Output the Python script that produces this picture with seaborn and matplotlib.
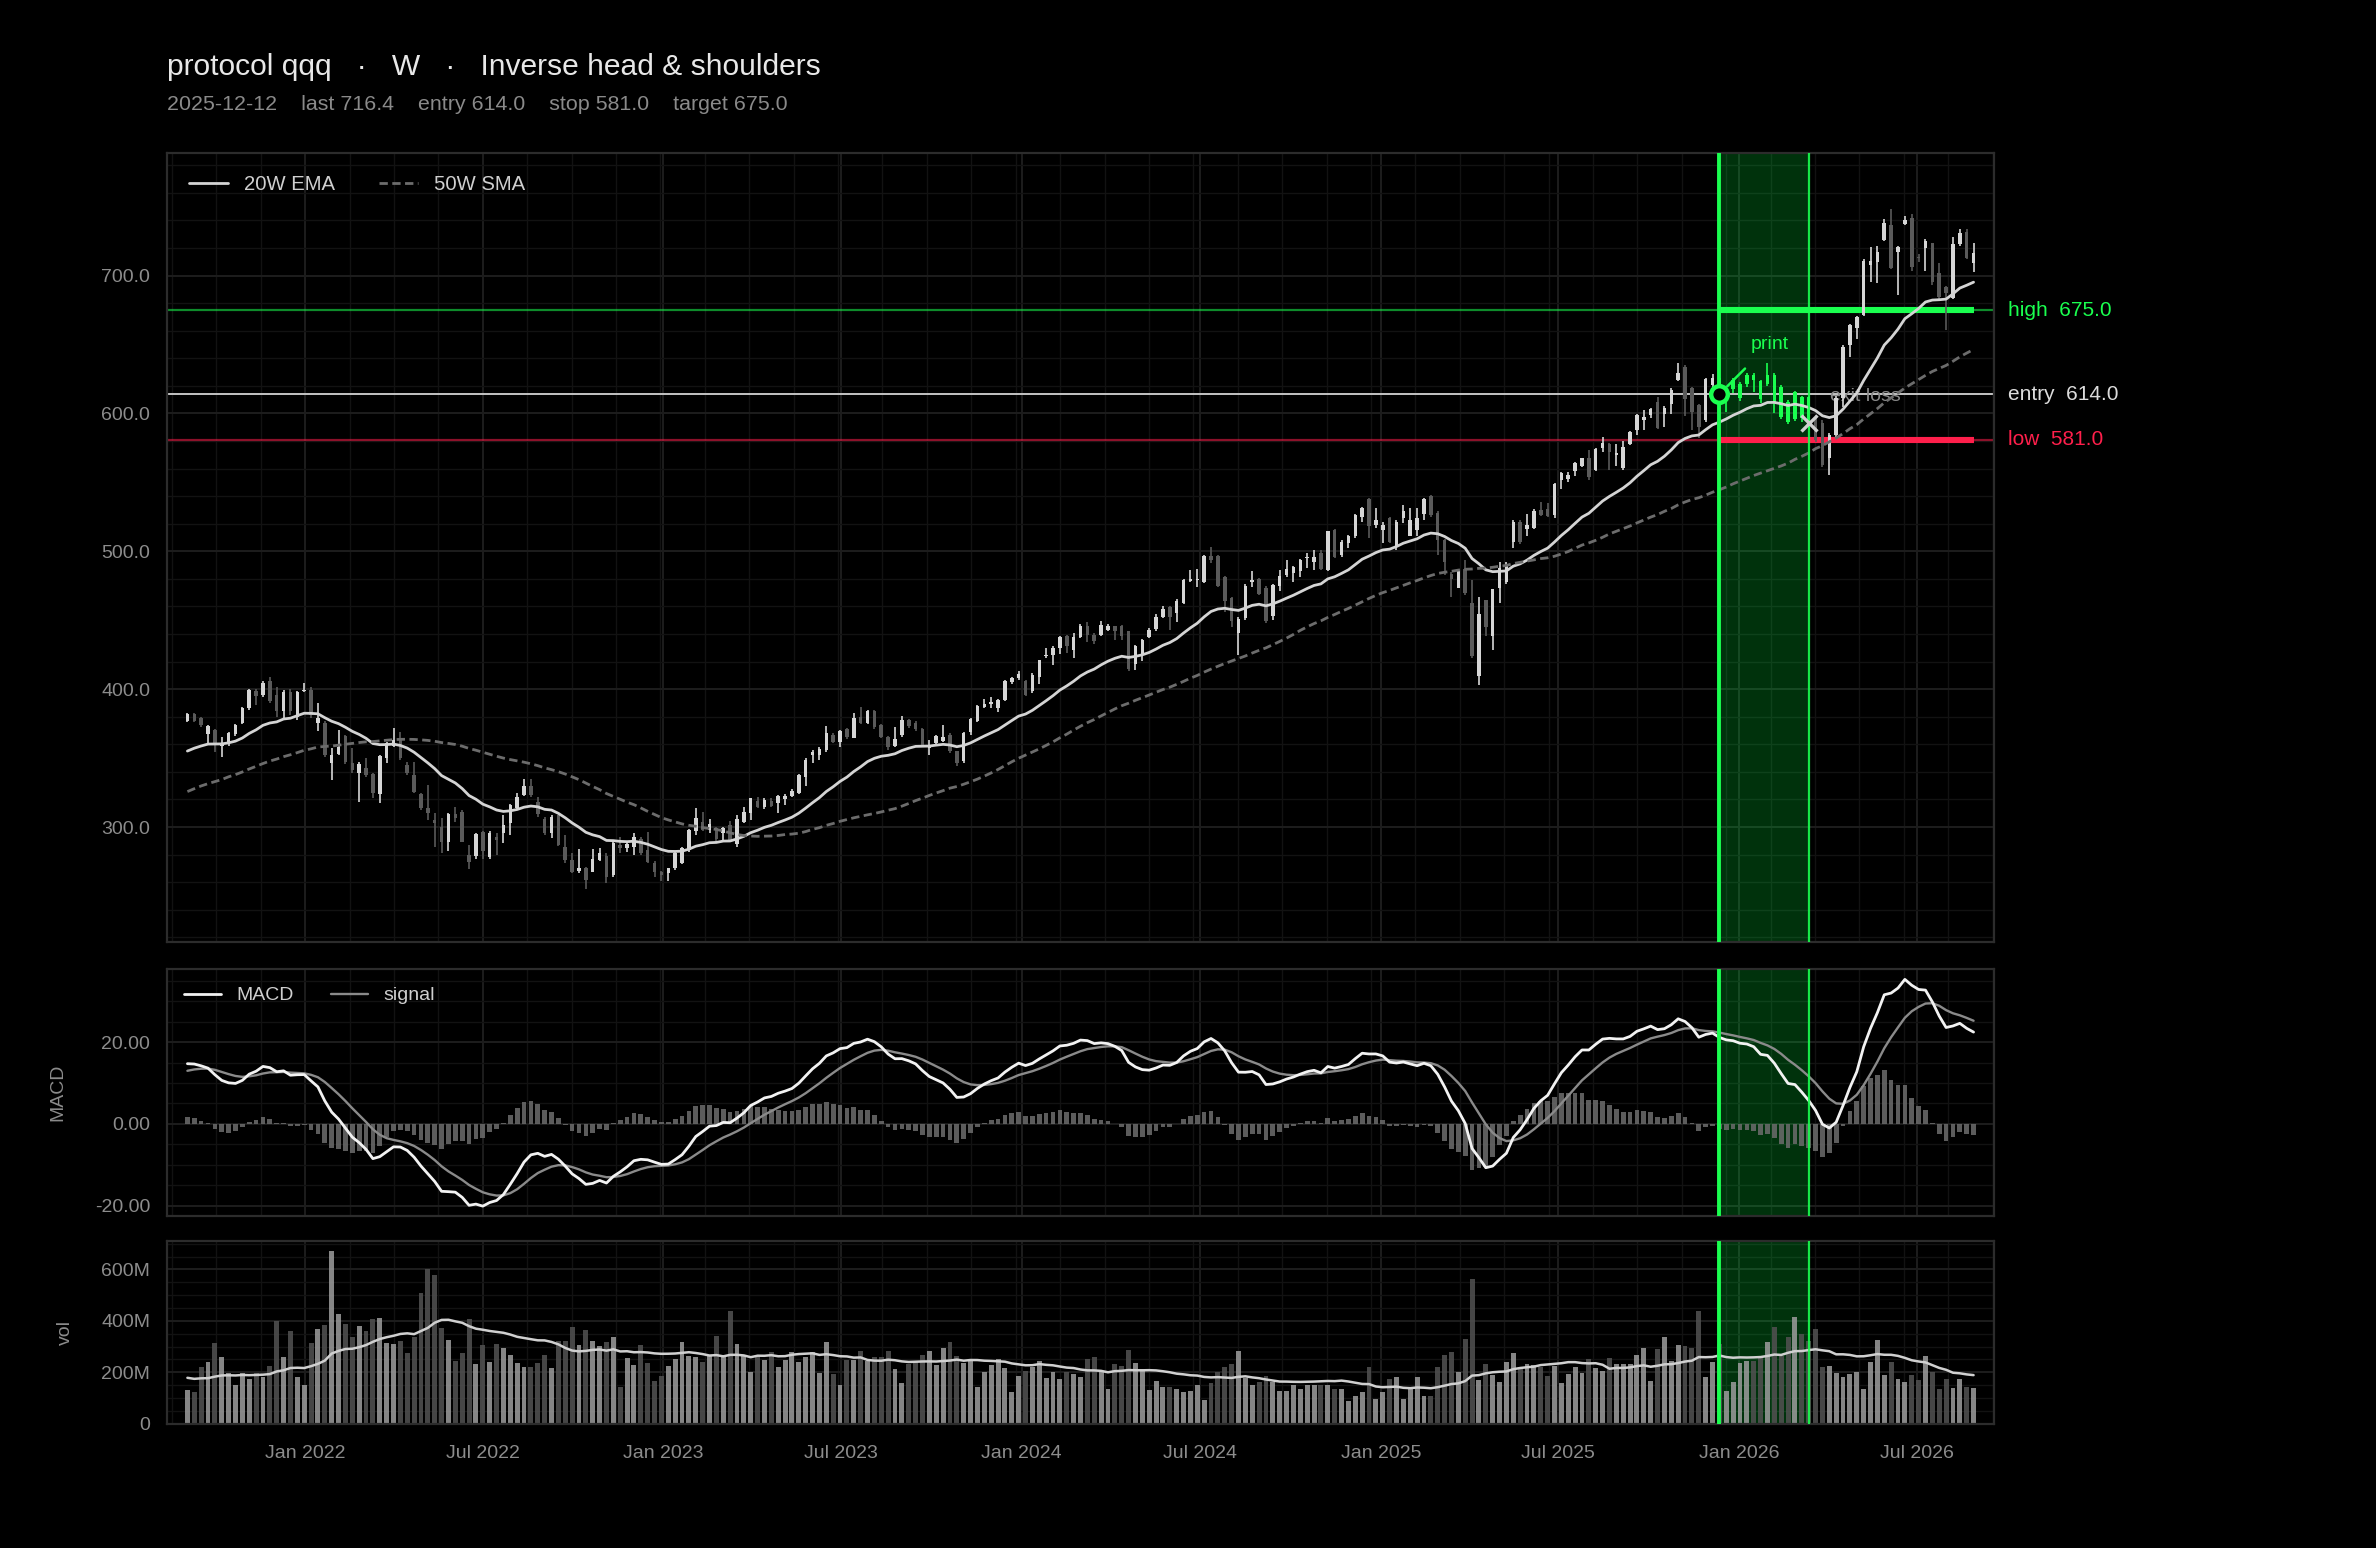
import numpy as np
import pandas as pd
import matplotlib
matplotlib.use("Agg")
import matplotlib.pyplot as plt
import matplotlib.dates as mdates
from matplotlib.ticker import AutoMinorLocator, FuncFormatter, MultipleLocator
import seaborn as sns

# weekly bars, Friday closes
first_week = "2021-09-03"

# warm-up closes before the first drawn bar (the averages / MACD are already running at the left edge)
pre_close = [285, 269, 266, 272, 274, 291, 287, 285, 269, 294, 291, 291, 299, 303, 303, 311, 312, 314,
             321, 315, 328, 314, 332, 337, 327, 316, 309, 314, 313, 314, 327, 337, 342, 339, 337, 331,
             329, 330, 334, 336, 342, 344, 351, 357, 359, 357, 367, 364, 368, 370, 370, 376]
pre_volume = [205, 180, 230, 195, 170, 185, 165, 160, 190, 175, 165, 180, 195, 170, 185, 160, 175, 170, 190]

opens = [
    377.2, 382.1, 379.0, 367.3, 370.5, 358.8, 360.8, 367.3, 375.8, 386.2,
    399.0, 395.9, 405.6, 395.9, 383.8, 398.3, 380.1, 398.5, 399.5, 375.3,
    375.3, 346.2, 353.0, 366.1, 346.2, 339.0, 342.6, 338.3, 324.0, 349.9,
    358.8, 363.2, 345.0, 337.8, 324.0, 313.6, 305.1, 300.2, 289.3, 309.4,
    311.1, 279.7, 278.9, 296.1, 278.0, 293.0, 295.4, 302.7, 313.6, 323.2,
    329.8, 318.4, 305.8, 295.4, 308.7, 285.7, 276.0, 268.0, 270.0, 267.5,
    276.0, 279.0, 265.1, 287.1, 284.5, 285.7, 291.0, 283.3, 274.0, 267.6,
    266.4, 270.5, 274.1, 283.3, 297.0, 303.9, 297.8, 299.0, 295.4, 301.5,
    287.6, 303.9, 309.9, 319.1, 314.8, 319.1, 317.2, 320.1, 322.5, 324.5,
    336.6, 352.3, 352.3, 356.0, 366.8, 362.0, 371.0, 364.4, 379.7, 375.8,
    384.3, 374.1, 365.6, 358.8, 366.8, 377.4, 375.7, 371.1, 357.4, 360.9,
    362.2, 367.0, 354.9, 347.7, 368.7, 376.7, 387.1, 389.5, 386.4, 392.4,
    405.0, 408.1, 405.7, 398.4, 408.8, 423.8, 425.0, 429.9, 438.8, 428.7,
    437.9, 446.1, 439.6, 439.6, 442.7, 445.6, 445.6, 442.0, 418.5, 425.0,
    437.9, 443.7, 452.4, 459.6, 455.3, 462.5, 478.2, 479.0, 477.5, 496.9,
    496.9, 481.4, 466.2, 441.0, 451.6, 477.5, 479.9, 473.4, 453.2, 474.5,
    482.9, 484.2, 485.4, 495.0, 492.6, 498.7, 486.6, 515.6, 497.4, 506.3,
    511.2, 525.2, 537.8, 519.2, 515.6, 524.0, 503.5, 524.0, 511.2, 515.6,
    527.2, 539.8, 528.1, 508.3, 483.7, 473.3, 487.1, 462.4, 409.7, 464.8,
    438.7, 473.3, 477.4, 507.1, 521.6, 516.1, 516.8, 530.1, 530.6, 526.5,
    551.9, 552.6, 558.6, 562.0, 567.6, 559.1, 574.8, 577.9, 569.6, 560.3,
    578.0, 588.1, 595.4, 599.0, 608.0, 599.7, 607.0, 624.4, 634.0, 618.3,
    606.2, 595.3, 620.7, 625.5, 612.0, 617.6, 611.0, 621.5, 628.0, 623.4,
    621.4, 627.6, 619.5, 608.6, 595.9, 612.2, 612.2, 596.5, 592.9, 567.5,
    584.4, 611.0, 650.0, 661.7, 671.5, 708.0, 710.1, 725.9, 736.7, 717.4,
    737.5, 741.6, 713.8, 719.8, 723.4, 701.7, 692.0, 683.6, 723.0, 731.9,
    709.4,
]
highs = [
    383.0, 383.0, 380.0, 374.0, 371.0, 365.6, 369.0, 375.0, 387.0, 400.0,
    400.0, 406.0, 408.7, 401.5, 399.5, 400.0, 399.0, 404.4, 401.9, 389.8,
    377.0, 357.1, 370.5, 366.8, 357.1, 347.0, 349.9, 339.5, 352.5, 361.5,
    371.7, 369.2, 347.5, 347.5, 325.0, 330.5, 309.9, 306.3, 310.5, 314.8,
    312.3, 286.9, 295.5, 297.0, 297.0, 296.0, 308.7, 317.0, 324.5, 335.0,
    334.6, 321.5, 307.0, 308.7, 309.0, 294.2, 280.9, 283.8, 271.2, 283.8,
    284.5, 280.9, 289.5, 293.0, 288.5, 295.4, 292.5, 296.6, 275.5, 268.0,
    270.5, 282.0, 285.5, 298.5, 313.6, 311.1, 305.8, 300.0, 300.2, 304.4,
    308.7, 314.8, 321.0, 322.0, 321.0, 320.8, 323.2, 324.0, 327.5, 338.5,
    349.9, 356.0, 358.4, 373.4, 368.0, 370.5, 372.0, 382.6, 387.4, 385.0,
    385.0, 375.0, 366.0, 372.4, 380.6, 378.0, 377.0, 372.0, 363.4, 366.5,
    374.3, 368.0, 355.5, 369.0, 379.0, 388.5, 393.1, 394.1, 393.0, 406.5,
    409.0, 413.5, 406.5, 411.5, 421.5, 429.9, 431.1, 438.5, 439.5, 440.8,
    447.0, 448.5, 440.5, 449.2, 447.5, 446.1, 446.5, 442.5, 432.3, 436.4,
    444.4, 454.8, 460.1, 460.6, 465.4, 480.0, 486.7, 487.2, 497.0, 503.1,
    497.5, 482.0, 467.0, 452.0, 476.0, 485.5, 481.0, 474.5, 476.5, 486.6,
    493.8, 489.0, 494.5, 498.7, 500.6, 501.0, 515.0, 516.0, 508.0, 512.0,
    527.0, 532.0, 538.5, 531.3, 521.6, 525.0, 522.5, 533.7, 531.3, 531.3,
    538.5, 541.0, 529.0, 509.0, 485.0, 486.6, 493.8, 479.3, 467.2, 465.0,
    473.0, 491.9, 491.9, 522.5, 522.8, 527.2, 530.5, 536.1, 534.9, 549.5,
    557.2, 557.2, 565.0, 568.0, 573.6, 574.8, 582.8, 578.5, 578.0, 579.7,
    587.6, 599.5, 602.6, 604.0, 612.3, 605.5, 618.3, 636.5, 635.0, 619.0,
    607.0, 625.5, 628.7, 631.0, 619.5, 626.0, 623.0, 629.0, 629.5, 624.0,
    636.4, 629.2, 620.5, 610.0, 616.5, 613.0, 613.0, 599.0, 595.0, 585.5,
    613.0, 650.0, 665.0, 671.0, 712.0, 721.0, 721.5, 740.9, 748.1, 721.5,
    743.3, 744.7, 716.0, 726.3, 724.0, 709.4, 692.5, 728.3, 733.6, 733.6,
    723.4,
]
lows = [
    376.5, 376.0, 372.9, 360.8, 354.7, 351.1, 359.0, 366.0, 375.0, 385.0,
    388.6, 394.0, 390.3, 379.7, 378.9, 381.0, 377.7, 397.6, 378.9, 370.0,
    351.0, 334.1, 352.3, 345.8, 339.5, 318.4, 336.6, 320.8, 317.2, 346.2,
    358.4, 348.7, 338.0, 325.0, 312.5, 305.1, 285.7, 280.9, 282.8, 303.9,
    288.9, 269.2, 277.0, 276.5, 277.0, 279.7, 288.2, 294.2, 312.0, 322.5,
    322.0, 307.5, 294.2, 291.8, 286.0, 273.6, 267.0, 267.0, 254.7, 267.1,
    275.0, 259.6, 263.4, 281.4, 282.0, 279.7, 280.0, 274.1, 263.4, 261.0,
    261.0, 269.0, 273.0, 282.0, 294.5, 297.3, 296.0, 290.0, 289.3, 289.3,
    285.7, 302.7, 305.1, 313.6, 313.0, 314.8, 310.4, 316.0, 321.5, 324.0,
    329.8, 346.7, 348.7, 354.7, 360.8, 358.4, 364.0, 364.4, 375.0, 375.0,
    371.0, 364.5, 355.9, 358.4, 365.6, 372.0, 370.0, 359.0, 352.5, 359.5,
    361.5, 354.0, 344.0, 346.5, 367.0, 376.0, 386.4, 386.4, 383.2, 391.5,
    403.5, 407.0, 395.0, 397.0, 403.8, 422.6, 417.8, 425.8, 426.3, 422.6,
    437.0, 434.0, 433.0, 438.3, 442.0, 436.0, 435.9, 413.0, 414.2, 420.7,
    437.0, 442.0, 451.6, 443.2, 448.5, 461.5, 478.0, 474.1, 477.0, 491.5,
    474.0, 455.8, 445.1, 425.0, 450.0, 474.1, 468.0, 448.0, 450.3, 470.9,
    481.2, 478.1, 481.2, 487.8, 486.6, 486.6, 486.0, 495.0, 496.0, 502.3,
    510.0, 521.6, 509.5, 516.8, 505.9, 506.0, 500.6, 520.4, 510.8, 510.8,
    522.8, 525.2, 497.4, 483.0, 466.7, 473.3, 468.4, 422.5, 403.2, 438.7,
    428.5, 462.4, 476.0, 502.3, 505.4, 510.8, 516.0, 525.7, 525.2, 524.0,
    545.0, 550.6, 554.8, 561.0, 551.9, 558.0, 571.7, 559.1, 562.0, 559.1,
    577.2, 584.5, 588.1, 596.6, 588.6, 590.0, 599.7, 623.9, 598.3, 588.1,
    582.0, 594.0, 619.5, 601.4, 601.4, 615.0, 609.0, 619.5, 615.8, 607.4,
    620.0, 600.2, 596.0, 592.0, 594.5, 594.0, 588.1, 579.6, 561.5, 555.4,
    583.0, 605.0, 641.2, 653.8, 671.0, 695.6, 694.4, 725.0, 704.6, 686.0,
    736.7, 703.6, 710.0, 703.6, 693.0, 683.0, 660.6, 683.0, 721.5, 711.8,
    702.9,
]
closes = [
    382.1, 376.8, 374.1, 373.4, 360.8, 360.8, 368.5, 374.1, 386.2, 399.5,
    395.2, 404.8, 391.5, 383.8, 398.3, 384.5, 398.3, 399.2, 381.4, 379.4,
    352.3, 352.3, 358.4, 347.5, 341.4, 345.8, 337.8, 324.5, 351.6, 360.8,
    363.2, 349.9, 339.0, 325.7, 313.6, 309.9, 302.7, 289.3, 309.4, 306.3,
    289.3, 274.8, 294.7, 282.8, 295.9, 290.6, 301.5, 316.0, 322.0, 330.0,
    323.2, 309.4, 295.4, 307.5, 287.1, 276.0, 267.6, 270.0, 261.5, 276.5,
    281.0, 264.0, 288.6, 284.5, 287.6, 292.5, 281.0, 274.8, 267.6, 265.1,
    270.0, 281.4, 284.5, 297.8, 306.3, 297.8, 302.0, 291.0, 299.0, 290.6,
    305.6, 311.1, 320.8, 314.8, 319.6, 315.3, 322.5, 322.5, 326.4, 337.8,
    348.7, 354.7, 356.3, 368.0, 362.0, 370.0, 365.6, 378.9, 375.8, 383.8,
    372.4, 365.6, 358.4, 363.9, 377.7, 373.1, 371.1, 359.8, 359.8, 365.8,
    365.3, 354.9, 346.5, 368.2, 378.4, 387.6, 389.5, 390.7, 392.4, 405.7,
    408.1, 411.0, 396.0, 410.5, 420.9, 425.0, 429.9, 437.9, 431.1, 437.9,
    446.1, 439.6, 434.7, 446.8, 445.6, 442.0, 438.3, 414.7, 431.1, 435.9,
    442.7, 452.4, 458.2, 452.4, 463.7, 479.4, 479.9, 479.9, 496.4, 493.5,
    475.1, 463.7, 449.2, 451.0, 475.1, 479.4, 469.3, 449.2, 475.7, 482.2,
    487.1, 488.3, 493.8, 496.2, 496.2, 487.1, 514.4, 496.2, 507.1, 511.2,
    526.5, 531.3, 518.5, 522.8, 519.2, 507.1, 521.6, 528.9, 522.8, 524.0,
    537.8, 526.5, 508.3, 491.9, 479.8, 485.4, 469.6, 423.7, 454.7, 445.0,
    472.5, 487.8, 489.0, 521.6, 507.1, 519.2, 529.6, 526.5, 525.7, 549.0,
    556.7, 555.3, 564.4, 567.6, 553.8, 574.1, 578.9, 571.7, 571.2, 575.5,
    586.2, 599.0, 597.3, 603.1, 589.3, 603.8, 617.1, 629.2, 610.4, 601.4,
    590.5, 624.8, 625.5, 612.2, 618.0, 624.3, 621.5, 628.0, 624.3, 610.2,
    627.6, 608.6, 597.7, 594.1, 615.9, 596.5, 590.5, 580.8, 562.7, 584.4,
    611.0, 648.5, 664.2, 670.3, 710.9, 710.3, 717.4, 738.4, 705.3, 721.0,
    740.4, 706.5, 712.6, 725.4, 695.6, 684.8, 687.2, 723.0, 730.7, 712.6,
    716.4,
]
# weekly volume, millions of shares
volume_m = [
    132, 125, 220, 242, 315, 261, 198, 152, 198, 173,
    198, 181, 226, 400, 261, 362, 181, 152, 315, 369,
    384, 672, 428, 389, 336, 381, 362, 406, 413, 315,
    310, 323, 274, 336, 509, 602, 580, 371, 327, 245,
    274, 408, 233, 307, 239, 310, 293, 269, 238, 220,
    220, 235, 267, 216, 323, 323, 377, 307, 366, 323,
    304, 318, 336, 142, 255, 230, 307, 238, 168, 187,
    226, 252, 319, 265, 261, 239, 265, 342, 267, 439,
    310, 267, 200, 258, 249, 278, 220, 248, 278, 239,
    258, 278, 196, 319, 194, 149, 249, 248, 282, 245,
    258, 258, 282, 214, 160, 233, 239, 267, 284, 230,
    295, 319, 265, 235, 248, 145, 200, 230, 252, 216,
    123, 187, 207, 222, 245, 177, 200, 174, 200, 195,
    183, 252, 261, 200, 137, 233, 226, 288, 238, 213,
    133, 168, 142, 142, 137, 125, 129, 149, 94, 159,
    203, 220, 233, 284, 177, 149, 164, 187, 162, 129,
    129, 151, 136, 152, 152, 149, 152, 136, 136, 90,
    110, 123, 220, 97, 123, 174, 183, 97, 134, 183,
    110, 110, 220, 269, 278, 200, 329, 562, 172, 233,
    191, 164, 242, 275, 213, 233, 229, 220, 185, 226,
    159, 194, 220, 196, 252, 216, 207, 256, 233, 233,
    233, 269, 295, 168, 291, 339, 245, 307, 301, 295,
    439, 181, 242, 310, 129, 164, 235, 245, 245, 258,
    319, 377, 265, 336, 416, 349, 320, 368, 220, 226,
    196, 183, 194, 200, 136, 242, 327, 191, 242, 174,
    164, 191, 172, 264, 200, 136, 174, 140, 174, 142,
    140,
]

symbol = "protocol qqq"
timeframe = "W"
pattern = "Inverse head & shoulders"
signal_date = "2025-12-12"
exit_date = "2026-03-13"
entry_price = 614.0
stop_price = 581.0
target_price = 675.0
exit_price = 593.0

n = len(closes)
if not (len(opens) == len(highs) == len(lows) == n == len(volume_m)):
    raise ValueError(f"lengths {len(opens)} {len(highs)} {len(lows)} {n} {len(volume_m)}")

GREEN = "#1aff4f"
RED = "#ff1f4b"
GREY_TXT = "#8c8c8c"

df = pd.DataFrame({
    "date": pd.date_range(first_week, periods=n, freq="W-FRI"),
    "open": opens, "high": highs, "low": lows, "close": closes,
    "volume": np.array(volume_m) * 1e6,
})
entry_ts = pd.Timestamp(signal_date)
exit_ts = pd.Timestamp(exit_date)

# indicators over warm-up + visible history
all_close = pd.Series(pre_close + closes, dtype=float)
k = len(pre_close)
df["ema20"] = all_close.ewm(span=20, adjust=False).mean().iloc[k:].values
df["sma50"] = all_close.rolling(50).mean().iloc[k:].values
macd_all = all_close.ewm(span=12, adjust=False).mean() - all_close.ewm(span=26, adjust=False).mean()
sig_all = macd_all.ewm(span=9, adjust=False).mean()
df["macd"] = macd_all.iloc[k:].values
df["signal"] = sig_all.iloc[k:].values
df["hist"] = df["macd"] - df["signal"]
all_vol = pd.Series(pre_volume + volume_m, dtype=float) * 1e6
df["vol_ma"] = all_vol.rolling(20).mean().iloc[len(pre_volume):].values

sns.set_theme(style="dark", rc={
    "figure.facecolor": "#000000",
    "axes.facecolor": "#000000",
    "axes.edgecolor": "#2c2c2c",
    "axes.linewidth": 0.8,
    "text.color": "#e6e6e6",
    "xtick.color": GREY_TXT,
    "ytick.color": GREY_TXT,
    "axes.labelcolor": GREY_TXT,
})
plt.rcParams["font.family"] = ["Liberation Sans", "DejaVu Sans"]

fig = plt.figure(figsize=(11.88, 7.74), dpi=200)
L, W = 0.0702, 0.7691
ax_p = fig.add_axes([L, 0.3914, W, 0.5098])
ax_m = fig.add_axes([L, 0.2143, W, 0.1595], sharex=ax_p)
ax_v = fig.add_axes([L, 0.0802, W, 0.1184], sharex=ax_p)
axes = [ax_p, ax_m, ax_v]

up = (df["close"] >= df["open"]).values
in_trade = ((df["date"] >= entry_ts) & (df["date"] <= exit_ts)).values
candle_col = np.where(in_trade, GREEN, np.where(up, "#d6d6d6", "#5a5a5a"))

# trade window shading on every panel (under the marks, over the grid)
for ax in axes:
    ax.axvspan(entry_ts, exit_ts, color="#00ff41", alpha=0.2, lw=0, zorder=0.7)
    ax.axvline(entry_ts, color=GREEN, lw=1.4, zorder=5)
    ax.axvline(exit_ts, color=GREEN, lw=0.8, alpha=0.9, zorder=5)

# price panel
last_date = df["date"].iloc[-1]
ax_p.axhline(target_price, color=GREEN, lw=0.8, alpha=0.55, zorder=2)
ax_p.axhline(stop_price, color=RED, lw=0.8, alpha=0.55, zorder=2)
ax_p.axhline(entry_price, color="#c4c4c4", lw=0.7, zorder=2)
ax_p.hlines(target_price, entry_ts, last_date, color=GREEN, lw=2.2, zorder=2.6)
ax_p.hlines(stop_price, entry_ts, last_date, color=RED, lw=2.2, zorder=2.6)

ax_p.vlines(df["date"], df["low"], df["high"], colors=candle_col, lw=0.6, zorder=3)
body_lo = np.minimum(df["open"], df["close"])
body_h = np.maximum((df["close"] - df["open"]).abs(), 0.8)
ax_p.bar(df["date"], body_h, bottom=body_lo, width=3.6, color=candle_col, lw=0, zorder=3)

sns.lineplot(x=df["date"], y=df["ema20"], ax=ax_p, color="#d4d4d4", lw=1.0,
             label="20W EMA", zorder=4)
sns.lineplot(x=df["date"], y=df["sma50"], ax=ax_p, color="#6c6c6c", lw=1.0,
             linestyle=(0, (3, 1.6)), label="50W SMA", zorder=4)

ax_p.plot([entry_ts], [entry_price], marker="o", ms=6, mfc="#000000", mec=GREEN, mew=1.6,
          ls="none", zorder=6)
ax_p.plot([exit_ts], [exit_price], marker="x", ms=6, mec="#cfcfcf", mew=1.2, ls="none", zorder=6)
ax_p.annotate("print", xy=(entry_ts, entry_price), xytext=(18, 18), textcoords="offset points",
              color=GREEN, fontsize=7, ha="center", va="center", zorder=6,
              arrowprops=dict(arrowstyle="-", color=GREEN, lw=0.9, shrinkA=5, shrinkB=4))
ax_p.annotate("exit loss", xy=(exit_ts, exit_price), xytext=(7.5, 9.7), textcoords="offset points",
              color="#8a8a8a", fontsize=7, ha="left", va="center", zorder=2.8)

ytr = ax_p.get_yaxis_transform()
ax_p.text(1.0075, target_price, f"high  {target_price:.1f}", transform=ytr, color=GREEN,
          fontsize=7.5, ha="left", va="center")
ax_p.text(1.0075, entry_price, f"entry  {entry_price:.1f}", transform=ytr, color="#dcdcdc",
          fontsize=7.5, ha="left", va="center")
ax_p.text(1.0075, stop_price, f"low  {stop_price:.1f}", transform=ytr, color=RED,
          fontsize=7.5, ha="left", va="center")

ax_p.set_ylim(216.5, 789)
ax_p.yaxis.set_major_locator(MultipleLocator(100))
ax_p.yaxis.set_major_formatter(FuncFormatter(lambda v, p: f"{v:.1f}"))
ax_p.yaxis.set_minor_locator(AutoMinorLocator(5))
ax_p.legend(loc="upper left", ncol=2, frameon=False, fontsize=7.3, labelcolor="#cfcfcf",
            handlelength=1.9, handletextpad=0.8, columnspacing=2.2, borderaxespad=0.7)

# MACD panel
ax_m.bar(df["date"], df["hist"], width=4.8, color="#6a6a6a", alpha=0.88, lw=0, zorder=2)
sns.lineplot(x=df["date"], y=df["macd"], ax=ax_m, color="#f2f2f2", lw=1.0, label="MACD", zorder=4)
sns.lineplot(x=df["date"], y=df["signal"], ax=ax_m, color="#8a8a8a", lw=0.85, label="signal", zorder=3)
ax_m.set_ylim(-22.6, 37.8)
ax_m.yaxis.set_major_locator(MultipleLocator(20))
ax_m.yaxis.set_major_formatter(FuncFormatter(lambda v, p: f"{v:.2f}"))
ax_m.yaxis.set_minor_locator(AutoMinorLocator(4))
ax_m.legend(loc="upper left", ncol=2, frameon=False, fontsize=7, labelcolor="#cfcfcf",
            handlelength=1.9, handletextpad=0.8, columnspacing=1.9, borderaxespad=0.5)

# volume panel
vol_col = np.where(up, "#999999", "#505050")
ax_v.bar(df["date"], df["volume"], width=5.0, color=vol_col, alpha=0.88, lw=0, zorder=1)
sns.lineplot(x=df["date"], y=df["vol_ma"], ax=ax_v, color="#d0d0d0", lw=0.9, zorder=4, legend=False)
ax_v.set_ylim(0, 712e6)
ax_v.yaxis.set_major_locator(MultipleLocator(200e6))
ax_v.yaxis.set_major_formatter(FuncFormatter(lambda v, p: "0" if v == 0 else f"{v/1e6:.0f}M"))
ax_v.yaxis.set_minor_locator(AutoMinorLocator(4))

ax_v.set_xlim(df["date"].iloc[0] - pd.Timedelta(days=21), last_date + pd.Timedelta(days=21))
ax_v.xaxis.set_major_locator(mdates.MonthLocator(bymonth=[1, 7]))
ax_v.xaxis.set_major_formatter(mdates.DateFormatter("%b %Y"))
ax_v.xaxis.set_minor_locator(AutoMinorLocator())

for ax in axes:
    ax.set_xlabel("")
    ax.set_ylabel("")
    ax.grid(True, which="major", color="#1d1d1d", lw=0.7)
    ax.grid(True, which="minor", color="#121212", lw=0.5)
    ax.set_axisbelow(True)
    ax.tick_params(axis="y", which="both", length=0, pad=6, labelsize=7, colors=GREY_TXT)
    ax.tick_params(axis="x", which="major", length=3, width=0.7, color="#444444",
                   labelsize=7, pad=4.5, labelcolor=GREY_TXT)
    ax.tick_params(axis="x", which="minor", length=0)
    for s in ax.spines.values():
        s.set_visible(True)
        s.set_color("#2c2c2c")
        s.set_linewidth(0.8)
ax_p.tick_params(axis="x", labelbottom=False)
ax_m.tick_params(axis="x", labelbottom=False)

ax_m.set_ylabel("MACD", fontsize=7, color=GREY_TXT)
ax_m.yaxis.set_label_coords(-0.055, 0.5)
ax_v.set_ylabel("vol", fontsize=7, color=GREY_TXT)
ax_v.yaxis.set_label_coords(-0.051, 0.5)

fig.text(L, 0.9565, f"{symbol}   ·   {timeframe}   ·   {pattern}", fontsize=10.8,
         color="#e8e8e8", va="center", ha="left")
fig.text(L, 0.9325,
         f"{signal_date}    last {closes[-1]:.1f}    entry {entry_price:.1f}    "
         f"stop {stop_price:.1f}    target {target_price:.1f}",
         fontsize=7.7, color="#8a8a8a", va="center", ha="left")

fig.savefig("out.png", dpi=200, facecolor=fig.get_facecolor())
